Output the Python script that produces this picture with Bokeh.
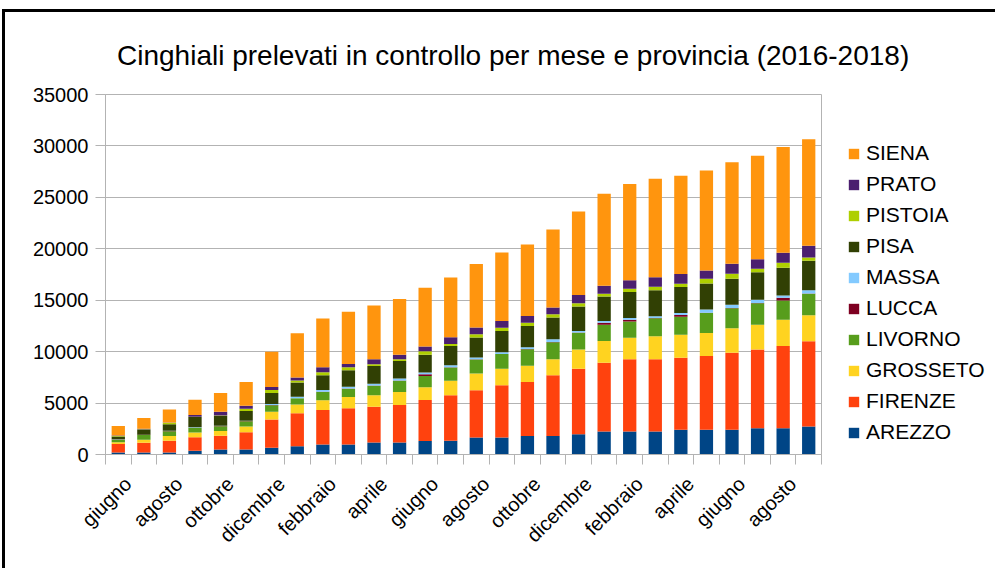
import math
from bokeh.plotting import figure
from bokeh.layouts import row, column
from bokeh.models import Range1d, FixedTicker, Legend, LegendItem, ColumnDataSource, Div
from bokeh.embed import file_html
from bokeh.resources import INLINE

title_text = "Cinghiali prelevati in controllo per mese e provincia (2016-2018)"

months = ["giugno", "luglio", "agosto", "settembre", "ottobre", "novembre", "dicembre",
          "gennaio", "febbraio", "marzo", "aprile", "maggio", "giugno", "luglio", "agosto",
          "settembre", "ottobre", "novembre", "dicembre",
          "gennaio", "febbraio", "marzo", "aprile", "maggio", "giugno", "luglio", "agosto", "settembre"]
years = [2016] * 7 + [2017] * 12 + [2018] * 9
# only every other month is labelled on the axis
shown_labels = [m if i % 2 == 0 else "" for i, m in enumerate(months)]

provinces = ["AREZZO", "FIRENZE", "GROSSETO", "LIVORNO", "LUCCA",
             "MASSA", "PISA", "PISTOIA", "PRATO", "SIENA"]
colors = ["#004586", "#ff420e", "#ffd320", "#579d1c", "#7e0021",
          "#83caff", "#314004", "#aecf00", "#4b1f6f", "#ff950e"]

arezzo = [200, 200, 200, 360, 490, 490, 650, 810, 970, 970, 1160, 1160, 1320, 1330,
          1650, 1650, 1810, 1810, 1980, 2240, 2240, 2240, 2400, 2400, 2400, 2560, 2560, 2730]
firenze = [820, 950, 1140, 1310, 1340, 1670, 2750, 3200, 3360, 3520, 3490, 3650, 3970, 4440,
           4600, 5090, 5250, 5900, 6350, 6680, 7010, 7010, 7010, 7170, 7500, 7660, 7980, 8270]
grosseto = [160, 290, 460, 460, 460, 560, 750, 840, 940, 1100, 1100, 1260, 1260, 1390,
            1620, 1590, 1560, 1560, 1880, 2110, 2110, 2240, 2240, 2240, 2370, 2400, 2560, 2530]
livorno = [260, 450, 460, 460, 460, 520, 650, 610, 810, 810, 940, 1100, 1070, 1300,
           1360, 1430, 1620, 1650, 1620, 1590, 1560, 1750, 1750, 1950, 1950, 2080, 1880, 2110]
lucca = [20, 20, 20, 20, 20, 20, 20, 20, 20, 20, 20, 20, 190, 20,
         20, 20, 20, 20, 20, 190, 190, 20, 160, 20, 20, 20, 260, 20]
massa = [20, 20, 20, 30, 30, 30, 100, 130, 160, 160, 160, 190, 160, 190,
         190, 160, 160, 260, 160, 160, 160, 190, 190, 320, 320, 320, 230, 320]
pisa = [260, 490, 650, 1010, 950, 950, 1050, 1390, 1450, 1610, 1740, 1710, 1740, 1880,
        1940, 2070, 2070, 2110, 2370, 2400, 2530, 2530, 2530, 2530, 2530, 2690, 2690, 2860]
pistoia = [50, 40, 130, 30, 40, 200, 300, 190, 290, 290, 160, 160, 320, 190,
           320, 320, 320, 320, 320, 260, 320, 320, 320, 450, 490, 320, 490, 320]
prato = [60, 40, 30, 150, 360, 290, 300, 290, 480, 320, 480, 450, 480, 650,
         650, 650, 650, 650, 810, 780, 810, 940, 940, 810, 970, 940, 970, 1140]
siena = [920, 1060, 1270, 1500, 1830, 2330, 3430, 4300, 4750, 5070, 5230, 5410, 5690, 5810,
         6160, 6650, 6950, 7590, 8110, 8930, 9380, 9570, 9570, 9720, 9860, 10060, 10270, 10350]

series = [arezzo, firenze, grosseto, livorno, lucca, massa, pisa, pistoia, prato, siena]
xpos = list(range(1, len(months) + 1))
data = {"x": xpos}
for name, vals in zip(provinces, series):
    data[name] = vals
src = ColumnDataSource(data)

FONT = "Liberation Sans"
TITLE_H = 59
H = 497

title_div = Div(
    text=('<div style="padding-top:30px;padding-left:112px;font-family:\'Liberation Sans\';'
          'font-size:28px;line-height:28px;color:#000;white-space:nowrap">' + title_text + '</div>'),
    width=990, height=TITLE_H, margin=0)

p = figure(width=830, height=H,
           x_range=Range1d(0.5, len(months) + 0.5), y_range=Range1d(0, 35000),
           output_backend="svg", toolbar_location=None,
           min_border_left=100, min_border_right=14, min_border_top=23, min_border_bottom=114)

renderers = p.vbar_stack(provinces, x="x", width=0.52, source=src,
                         fill_color=colors, line_color=None)

p.background_fill_color = "white"
p.border_fill_color = "white"
p.outline_line_color = "#b3b3b3"
p.xgrid.visible = False
p.ygrid.grid_line_color = "#b3b3b3"

p.yaxis.ticker = FixedTicker(ticks=list(range(0, 35001, 5000)))
p.yaxis.major_label_text_font = FONT
p.yaxis.major_label_text_font_size = "20px"
p.yaxis.major_label_text_color = "#000000"
p.yaxis.axis_line_color = "#b3b3b3"
p.yaxis.major_tick_line_color = "#b3b3b3"
p.yaxis.major_tick_out = 10
p.yaxis.major_tick_in = 0
p.yaxis.minor_tick_line_color = None
p.yaxis.major_label_standoff = 7

label_ticks = [x + 0.375 for x in xpos]
p.xaxis.ticker = FixedTicker(ticks=label_ticks, minor_ticks=[i + 0.5 for i in range(len(months) + 1)])
p.xaxis.major_label_overrides = {t: lab for t, lab in zip(label_ticks, shown_labels)}
p.xaxis.major_label_text_font = FONT
p.xaxis.major_label_text_font_size = "20px"
p.xaxis.major_label_text_color = "#000000"
p.xaxis.major_label_orientation = math.pi / 4
p.xaxis.axis_line_color = "#b3b3b3"
p.xaxis.major_tick_out = 0
p.xaxis.major_tick_in = 0
p.xaxis.minor_tick_line_color = "#b3b3b3"
p.xaxis.minor_tick_out = 10
p.xaxis.minor_tick_in = 0
p.xaxis.major_label_standoff = 16

# legend panel to the right of the chart (its frame is aligned with the chart frame)
pl = figure(width=160, height=H, x_range=Range1d(0, 1), y_range=Range1d(0, 1),
            output_backend="svg", toolbar_location=None,
            x_axis_type=None, y_axis_type=None,
            min_border_left=0, min_border_right=0, min_border_top=23, min_border_bottom=114)
pl.outline_line_color = None
pl.xgrid.visible = False
pl.ygrid.visible = False
pl.background_fill_color = "white"
pl.border_fill_color = "white"
# key swatches: one bar each, placed outside the visible range
key_renderers = [pl.vbar(x=[5], top=[1], width=0.5, fill_color=c, line_color=None) for c in colors]

items = [LegendItem(label=name, renderers=[r]) for name, r in zip(provinces, key_renderers)][::-1]
legend = Legend(items=items, location=(12, 10), orientation="vertical",
                padding=0, margin=0, spacing=7,
                glyph_width=13, glyph_height=13, label_height=24, label_standoff=6,
                label_text_font=FONT, label_text_font_size="21px", label_text_color="#000000",
                border_line_color=None, background_fill_alpha=0)
pl.add_layout(legend, "center")

layout = column(title_div, row(p, pl))
layout.styles = {"margin-left": "2px", "margin-top": "9px",
                 "border-left": "3px solid black", "border-top": "3px solid black"}

open("out.html", "w").write(file_html(layout, INLINE))
